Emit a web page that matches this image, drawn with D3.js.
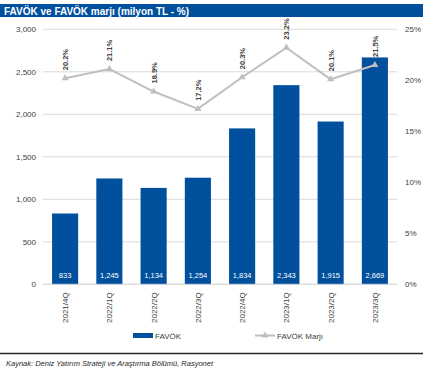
<html>
<head>
<script src="https://d3js.org/d3.v7.min.js"></script>
<style>
  body { margin: 0; background: #fff; }
  text { font-family: "Liberation Sans", Arial, sans-serif; }
</style>
</head>
<body>
<svg id="chart" width="423" height="370"></svg>
<script>
const quarters = ["2021/4Q","2022/1Q","2022/2Q","2022/3Q","2022/4Q","2023/1Q","2023/2Q","2023/3Q"];
const favok = [833, 1245, 1134, 1254, 1834, 2343, 1915, 2669];
const marj = [20.2, 21.1, 18.9, 17.2, 20.3, 23.2, 20.1, 21.5];
const leftTicks = [0, 500, 1000, 1500, 2000, 2500, 3000];
const rightTicks = [0, 5, 10, 15, 20, 25];

const svg = d3.select("#chart");
const blue = "#00509e";
const grey = "#bfbfbf";

// title bar
svg.append("rect").attr("x", 0).attr("y", 4).attr("width", 423).attr("height", 13).attr("fill", blue);
svg.append("text").attr("x", 4).attr("y", 14.5)
   .attr("fill", "#fff").attr("font-weight", "bold").attr("font-size", "10px")
   .text("FAVÖK ve FAVÖK marjı (milyon TL - %)");

const x = d3.scaleBand().domain(quarters).range([43, 397]).paddingInner(0.41).paddingOuter(0.205);
const y = d3.scaleLinear().domain([0, 3000]).range([284.3, 29.3]);
const y2 = d3.scaleLinear().domain([0, 25]).range([284.3, 29.3]);

// gridlines
svg.append("g").selectAll("line").data(leftTicks).join("line")
   .attr("x1", 43).attr("x2", 397)
   .attr("y1", d => y(d)).attr("y2", d => y(d))
   .attr("stroke", "#d9d9d9").attr("stroke-width", 1);

// left axis
const la = svg.append("g").attr("transform", "translate(36,0)")
   .call(d3.axisLeft(y).tickValues(leftTicks).tickSize(0).tickPadding(0).tickFormat(d3.format(",")));
la.select(".domain").remove();
la.selectAll("text").attr("font-size", "8px").attr("fill", "#404040").style("font-family", "Liberation Sans, Arial, sans-serif");

// right axis
const ra = svg.append("g").attr("transform", "translate(405,0)")
   .call(d3.axisRight(y2).tickValues(rightTicks).tickSize(0).tickPadding(0).tickFormat(d => d + "%"));
ra.select(".domain").remove();
ra.selectAll("text").attr("font-size", "8px").attr("fill", "#404040").style("font-family", "Liberation Sans, Arial, sans-serif");

// bars
svg.append("g").selectAll("rect").data(favok).join("rect")
   .attr("x", (d, i) => x(quarters[i]))
   .attr("width", x.bandwidth())
   .attr("y", d => y(d))
   .attr("height", d => y(0) - y(d))
   .attr("fill", blue);

svg.append("g").selectAll("text").data(favok).join("text")
   .attr("x", (d, i) => x(quarters[i]) + x.bandwidth() / 2)
   .attr("y", y(0) - 6)
   .attr("text-anchor", "middle")
   .attr("font-size", "7.5px").attr("fill", "#fff")
   .text(d => d3.format(",")(d));

// baseline
svg.append("line").attr("x1", 43).attr("x2", 397).attr("y1", y(0)).attr("y2", y(0))
   .attr("stroke", "#d9d9d9");

// category labels
svg.append("g").selectAll("text").data(quarters).join("text")
   .attr("transform", d => `translate(${x(d) + x.bandwidth() / 2 + 3},${y(0) + 8}) rotate(-90)`)
   .attr("text-anchor", "end")
   .attr("font-size", "8px").attr("fill", "#404040")
   .text(d => d);

// margin line
const cx = i => x(quarters[i]) + x.bandwidth() / 2;
const line = d3.line().x((d, i) => cx(i)).y(d => y2(d));
svg.append("path").datum(marj).attr("d", line)
   .attr("fill", "none").attr("stroke", grey).attr("stroke-width", 2);

const tri = d3.symbol().type(d3.symbolTriangle).size(22);
svg.append("g").selectAll("path").data(marj).join("path")
   .attr("d", tri)
   .attr("transform", (d, i) => `translate(${cx(i)},${y2(d)})`)
   .attr("fill", grey);

svg.append("g").selectAll("text").data(marj).join("text")
   .attr("transform", (d, i) => `translate(${cx(i) + 3},${y2(d) - 8}) rotate(-90)`)
   .attr("font-size", "7.5px").attr("font-weight", "bold").attr("fill", "#404040")
   .text(d => d.toFixed(1) + "%");

// legend
svg.append("rect").attr("x", 133).attr("y", 333).attr("width", 20).attr("height", 5).attr("fill", blue);
svg.append("text").attr("x", 155).attr("y", 338.5).attr("font-size", "8px").attr("fill", "#404040").text("FAVÖK");
svg.append("line").attr("x1", 255).attr("x2", 275).attr("y1", 335.5).attr("y2", 335.5)
   .attr("stroke", grey).attr("stroke-width", 2);
svg.append("path").attr("d", tri).attr("transform", "translate(265,335.5)").attr("fill", grey);
svg.append("text").attr("x", 277).attr("y", 338.5).attr("font-size", "8px").attr("fill", "#404040").text("FAVÖK Marjı");

// footer
svg.append("line").attr("x1", 0).attr("x2", 423).attr("y1", 353.5).attr("y2", 353.5)
   .attr("stroke", "#262626").attr("stroke-width", 1.5);
svg.append("text").attr("x", 6).attr("y", 366)
   .attr("font-size", "7.5px").attr("font-style", "italic").attr("fill", "#262626")
   .text("Kaynak: Deniz Yatırım Strateji ve Araştırma Bölümü, Rasyonet");
</script>
</body>
</html>
